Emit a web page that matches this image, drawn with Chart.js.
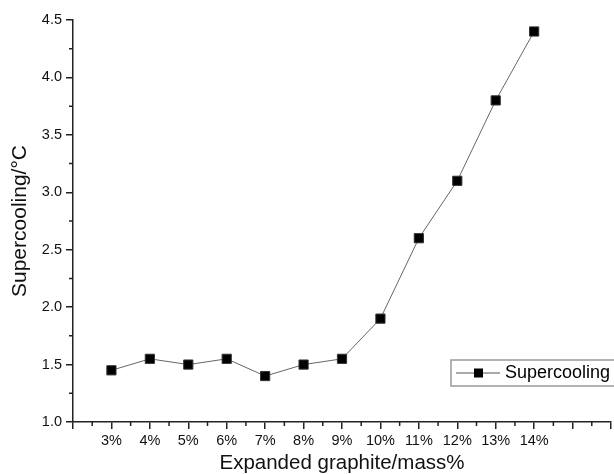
<!DOCTYPE html>
<html>
<head>
<meta charset="utf-8">
<script src="https://cdn.jsdelivr.net/npm/chart.js@4/dist/chart.umd.min.js"></script>
<style>
  html, body { margin: 0; padding: 0; background: #fff; }
  #wrap { width: 614px; height: 474px; }
</style>
</head>
<body>
<div id="wrap"><canvas id="grafico"></canvas></div>
<script>
// Datos
const categorias = ["3%", "4%", "5%", "6%", "7%", "8%", "9%", "10%", "11%", "12%", "13%", "14%"];
const supercooling = [1.45, 1.55, 1.5, 1.55, 1.4, 1.5, 1.55, 1.9, 2.6, 3.1, 3.8, 4.4];
const yTicks = [1.0, 1.5, 2.0, 2.5, 3.0, 3.5, 4.0, 4.5];

const fuente = "'Liberation Sans', Arial, sans-serif";
const colorEje = "#222";

// puntos (x numérico a partir de la categoría)
const puntos = categorias.map((c, i) => ({ x: parseFloat(c), y: supercooling[i] }));

// Ticks menores y leyenda dentro del área
const extras = {
  id: "extras",
  afterDraw(chart) {
    const ctx = chart.ctx;
    const xs = chart.scales.x, ys = chart.scales.y;
    ctx.save();
    ctx.strokeStyle = colorEje;
    ctx.lineWidth = 1.5;
    ctx.beginPath();
    for (let v = xs.min + 0.5; v < xs.max; v += 1) {
      const px = xs.getPixelForValue(v);
      ctx.moveTo(px, xs.top);
      ctx.lineTo(px, xs.top + 4);
    }
    for (let v = ys.min + 0.25; v < ys.max; v += 0.5) {
      const py = ys.getPixelForValue(v);
      ctx.moveTo(ys.right, py);
      ctx.lineTo(ys.right - 4, py);
    }
    ctx.stroke();

    // leyenda
    const bx = 451, by = 360, bw = 170, bh = 26;
    ctx.strokeStyle = "#999";
    ctx.lineWidth = 1.5;
    ctx.strokeRect(bx, by, bw, bh);
    const cy = by + bh / 2;
    ctx.strokeStyle = "#555";
    ctx.lineWidth = 1;
    ctx.beginPath();
    ctx.moveTo(456, cy);
    ctx.lineTo(500, cy);
    ctx.stroke();
    ctx.fillStyle = "#000";
    ctx.fillRect(474, cy - 4.5, 9, 9);
    ctx.font = "18px " + fuente;
    ctx.textBaseline = "middle";
    ctx.fillText(chart.data.datasets[0].label, 505, cy);
    ctx.restore();
  }
};

new Chart(document.getElementById("grafico"), {
  type: "line",
  data: {
    datasets: [{
      label: "Supercooling",
      data: puntos,
      borderColor: "#666",
      borderWidth: 1,
      pointStyle: "rect",
      pointRadius: 6.5,
      pointBackgroundColor: "#000",
      pointBorderColor: "#333",
      pointBorderWidth: 1,
      tension: 0
    }]
  },
  options: {
    responsive: true,
    maintainAspectRatio: false,
    animation: false,
    layout: { autoPadding: false, padding: { left: 0, top: 20, right: 2, bottom: 0 } },
    plugins: { legend: { display: false }, tooltip: { enabled: false } },
    scales: {
      x: {
        type: "linear",
        min: 2,
        max: 16,
        afterFit: s => { s.height = 52; },
        border: { display: true, color: colorEje, width: 1.5 },
        grid: { drawOnChartArea: false, drawTicks: true, tickLength: 7, color: colorEje, lineWidth: 1.5 },
        ticks: {
          stepSize: 1,
          autoSkip: false,
          maxRotation: 0,
          padding: 3,
          color: "#111",
          font: { family: fuente, size: 14.5 },
          callback: v => {
            const c = categorias.find(k => parseFloat(k) === v);
            return c ? c : "";
          }
        },
        title: {
          display: true,
          text: "Expanded graphite/mass%",
          color: "#111",
          font: { family: fuente, size: 20.5, lineHeight: 1 },
          padding: { top: 0, bottom: 0 }
        }
      },
      y: {
        min: 1,
        max: 4.5,
        afterFit: s => { s.width = 73; },
        border: { display: true, color: colorEje, width: 1.5 },
        grid: { drawOnChartArea: false, drawTicks: true, tickLength: 7, color: colorEje, lineWidth: 1.5 },
        afterBuildTicks: s => { s.ticks = yTicks.map(v => ({ value: v })); },
        ticks: {
          padding: 4,
          color: "#111",
          font: { family: fuente, size: 14.5 },
          callback: v => v.toFixed(1)
        },
        title: {
          display: true,
          text: "Supercooling/°C",
          color: "#111",
          font: { family: fuente, size: 21 },
          padding: { top: 8, bottom: 0 }
        }
      }
    }
  },
  plugins: [extras]
});
</script>
</body>
</html>
